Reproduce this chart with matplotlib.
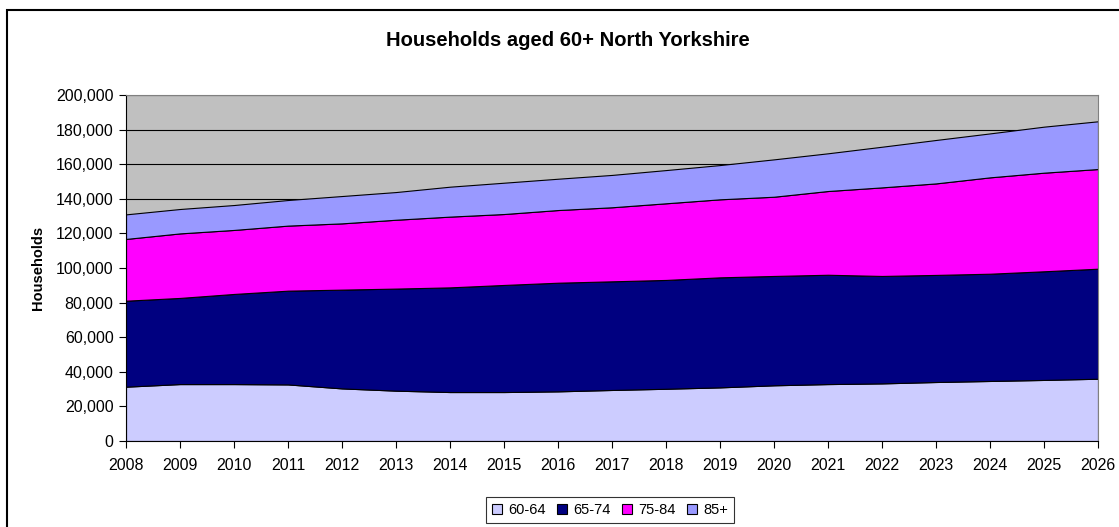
import matplotlib.pyplot as plt
from matplotlib.patches import Rectangle
from matplotlib.ticker import FuncFormatter

plt.rcParams["font.family"] = ["Liberation Sans", "DejaVu Sans"]

# Data
years = list(range(2008, 2027))
age_60_64 = [31400, 32900, 32900, 32700, 30400, 29100, 28300, 28300, 28700, 29500,
             30200, 31000, 32200, 32900, 33300, 34100, 34700, 35300, 36000]
age_65_74 = [49700, 49800, 52100, 54200, 57100, 59000, 60500, 61900, 62800, 62800,
             62900, 63600, 63200, 63200, 62100, 61900, 62000, 62800, 63600]
age_75_84 = [35700, 37300, 37000, 37600, 38300, 39800, 40900, 41000, 42000, 42800,
             44300, 45100, 45800, 48400, 51200, 52900, 55700, 57000, 57600]
age_85_plus = [14200, 14100, 14400, 14800, 15800, 16000, 17300, 18100, 18100, 18700,
               19200, 19800, 21600, 21800, 23500, 25100, 25400, 26600, 27600]
labels = ["60-64", "65-74", "75-84", "85+"]
colors = ["#CCCCFF", "#000080", "#FF00FF", "#9999FF"]

fig = plt.figure(figsize=(11.19, 5.27), dpi=100)
ax = fig.add_axes([126 / 1119, 1 - 441 / 527, (1098 - 126) / 1119, (441 - 95) / 527])

# Outer chart frame (left and top visible)
fig.patches.append(Rectangle((7 / 1119, -0.05), 1.2, 1 - 10 / 527 + 0.05,
                             transform=fig.transFigure, fill=False,
                             edgecolor="black", linewidth=1.5))

ax.set_facecolor("#C0C0C0")
ax.stackplot(years, age_60_64, age_65_74, age_75_84, age_85_plus,
             colors=colors, labels=labels, edgecolor="black", linewidth=0.8, zorder=2)

ax.set_xlim(2008, 2026)
ax.set_ylim(0, 200000)
ax.set_xticks(years)
ax.set_yticks(range(0, 200001, 20000))
ax.yaxis.set_major_formatter(FuncFormatter(lambda v, p: f"{int(v):,}"))
ax.grid(axis="y", color="black", linewidth=0.8, zorder=1)
ax.set_axisbelow(True)

for side in ["top", "right"]:
    ax.spines[side].set_color("#808080")
ax.spines["left"].set_color("black")
ax.spines["bottom"].set_color("black")
ax.tick_params(axis="both", direction="out", length=5, width=0.8, labelsize=11.5, pad=4)
ax.tick_params(axis="x", pad=7)

ax.set_ylabel("Households", fontsize=10.5, fontweight="bold", labelpad=8)
fig.text(568 / 1119, 1 - 41 / 527, "Households aged 60+ North Yorkshire",
         ha="center", va="center", fontsize=14.5, fontweight="bold")

leg = ax.legend(loc="center", bbox_to_anchor=(610 / 1119, 1 - 510 / 527),
                bbox_transform=fig.transFigure, ncol=4, fontsize=10.5,
                frameon=True, fancybox=False, edgecolor="black",
                handlelength=0.7, handleheight=0.7, handletextpad=0.4,
                columnspacing=0.8, borderpad=0.4)
leg.get_frame().set_linewidth(0.8)

fig.savefig("out.png", dpi=100)
